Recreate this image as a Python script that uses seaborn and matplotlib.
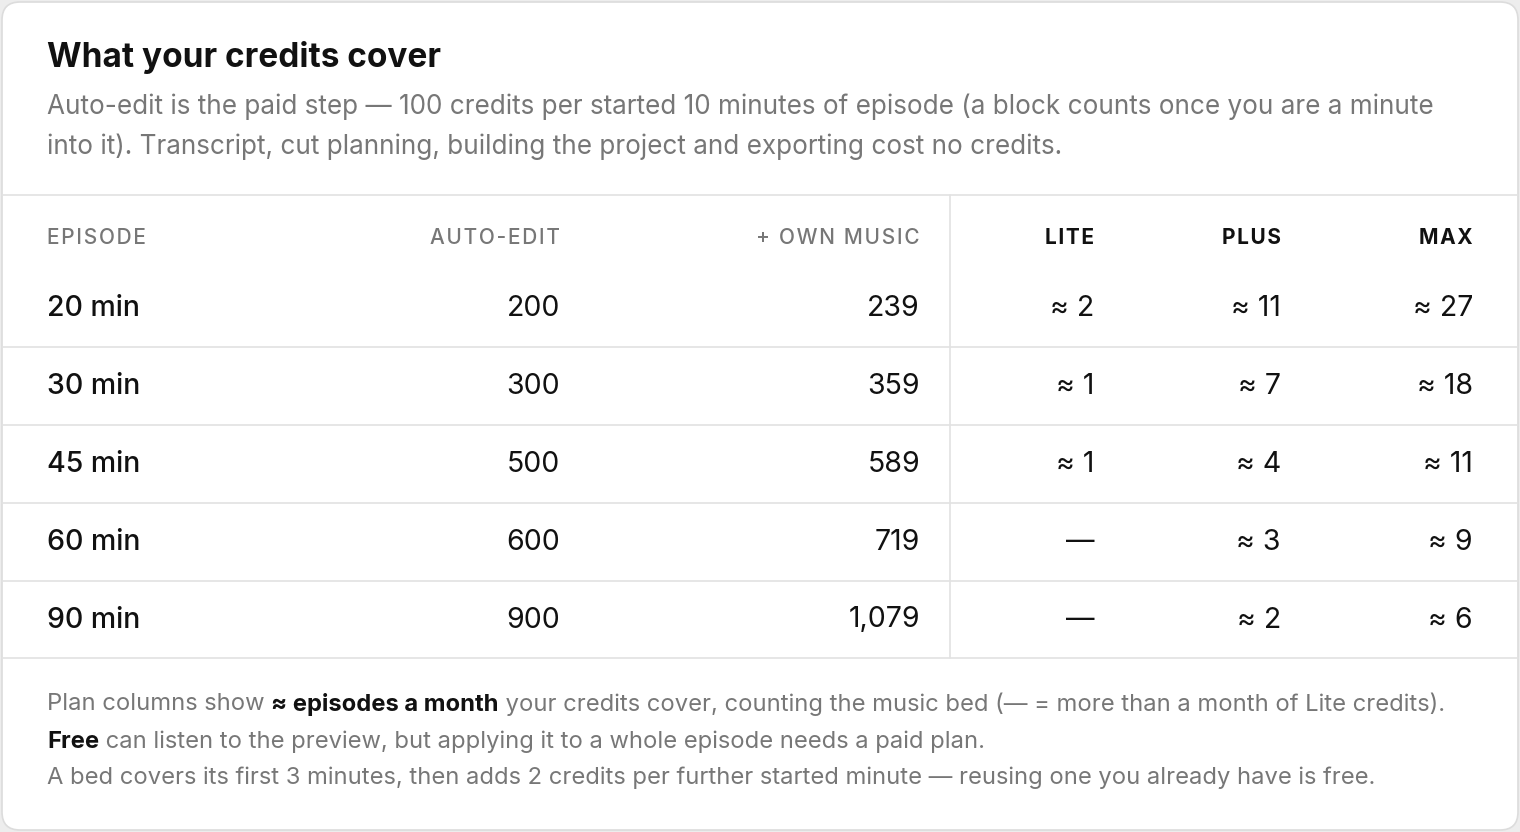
import matplotlib.pyplot as plt
import seaborn as sns
from matplotlib.patches import FancyBboxPatch

sns.set_theme(style="white")
plt.rcParams['font.family'] = ['Inter', 'DejaVu Sans']

episodes = ["20 min", "30 min", "45 min", "60 min", "90 min"]
auto_edit = [200, 300, 500, 600, 900]
own_music = [239, 359, 589, 719, 1079]
lite = [2, 1, 1, None, None]
plus = [11, 7, 4, 3, 2]
maxp = [27, 18, 11, 9, 6]

headers = ["EPISODE", "AUTO-EDIT", "+ OWN MUSIC", "LITE", "PLUS", "MAX"]

fig = plt.figure(figsize=(15.2, 8.32), dpi=100)
fig.patch.set_facecolor("#ededed")
ax = fig.add_axes([0, 0, 1, 1])
ax.set_xlim(0, 1520)
ax.set_ylim(832, 0)
ax.axis("off")

ax.add_patch(FancyBboxPatch((2, 2), 1516, 828, boxstyle="round,pad=0,rounding_size=18",
                            fc="white", ec="#dcdcdc", lw=1.2))

dark = "#111111"
gray = "#777777"
ax.text(47, 58, "What your credits cover", fontsize=24, weight="bold", color=dark, va="center")
ax.text(47, 107, "Auto-edit is the paid step — 100 credits per started 10 minutes of episode (a block counts once you are a minute",
        fontsize=18.8, color=gray, va="center")
ax.text(47, 147, "into it). Transcript, cut planning, building the project and exporting cost no credits.",
        fontsize=18.8, color=gray, va="center")

ax.plot([2, 1518], [195, 195], color="#e2e2e2", lw=1.2)
ax.plot([950, 950], [195, 658], color="#e2e2e2", lw=1.2)
for y in [347, 425, 503, 581, 658]:
    ax.plot([2, 1518], [y, y], color="#e2e2e2", lw=1.2)

def spaced(s):
    return "\u200a".join(s)

xs = [47, 560, 920, 1094, 1281, 1473]
for i, h in enumerate(headers):
    ax.text(xs[i], 238, spaced(h), fontsize=15, weight="bold" if i >= 3 else "medium",
            color=dark if i >= 3 else gray, ha="left" if i == 0 else "right", va="center")

def approx(v):
    return "—" if v is None else f"≈ {v}"

ys = [308, 386, 464, 542, 620]
for r, y in enumerate(ys):
    vals = [episodes[r], str(auto_edit[r]), f"{own_music[r]:,}", approx(lite[r]), approx(plus[r]), approx(maxp[r])]
    for i, v in enumerate(vals):
        ax.text(xs[i], y, v, fontsize=20.5, weight="medium" if i == 0 else "normal", color=dark,
                ha="left" if i == 0 else "right", va="center")

fig.canvas.draw()
r = fig.canvas.get_renderer()

def runs(y, parts):
    x = 47
    for txt, bold in parts:
        t = ax.text(x, y, txt, fontsize=17.1, weight="bold" if bold else "normal",
                    color=dark if bold else gray, va="center")
        bb = t.get_window_extent(r)
        x += bb.width

runs(704, [("Plan columns show ", False), ("≈ episodes a month", True),
           (" your credits cover, counting the music bed (— = more than a month of Lite credits).", False)])
runs(742, [("Free", True), (" can listen to the preview, but applying it to a whole episode needs a paid plan.", False)])
runs(778, [("A bed covers its first 3 minutes, then adds 2 credits per further started minute — reusing one you already have is free.", False)])

fig.savefig("out.png", dpi=100, facecolor=fig.get_facecolor())
